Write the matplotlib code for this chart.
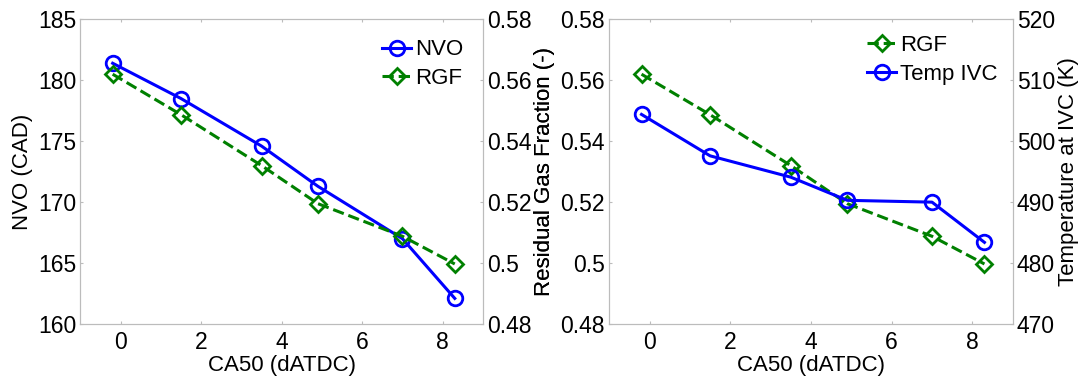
import matplotlib
matplotlib.use('Agg')
import matplotlib.pyplot as plt

plt.rcParams['font.family'] = ['Liberation Sans', 'DejaVu Sans']

# --- Data: CA50 sweep ---
ca50 = [-0.2, 1.5, 3.5, 4.9, 7.0, 8.3]
nvo = [181.4, 178.5, 174.6, 171.3, 167.0, 162.1]
rgf = [0.562, 0.5487, 0.532, 0.5195, 0.5088, 0.4997]
temp_ivc = [504.4, 497.6, 494.1, 490.3, 490.0, 483.4]

xticks = [0, 2, 4, 6, 8]
nvo_ticks = [160, 165, 170, 175, 180, 185]
rgf_ticks = [0.48, 0.5, 0.52, 0.54, 0.56, 0.58]
rgf_ticklabels = ['0.48', '0.5', '0.52', '0.54', '0.56', '0.58']
temp_ticks = [470, 480, 490, 500, 510, 520]

BLUE = '#0000ff'
GREEN = '#008000'
GREY = '#bcbcbc'
FS_TICK = 16.5
FS_LABEL = 16

circle_style = dict(color=BLUE, lw=2.2, ms=10.5, mfc='none', mew=2)
diamond_style = dict(color=GREEN, lw=2.2, ms=8.5, mfc='none', mew=2)
legend_style = dict(loc='upper right', frameon=False, fontsize=FS_LABEL,
                    handlelength=1.3, handletextpad=0.15, labelspacing=0.35)

LEFT_POS = [0.0741, 0.1406, 0.3706, 0.808]
RIGHT_POS = [0.561, 0.1406, 0.3715, 0.808]
# shared x (figure fraction) for the left edge of the RGF label between panels
RGF_LABEL_X = LEFT_POS[0] + 1.126 * LEFT_POS[2]


def style_axis(ax):
    for s in ax.spines.values():
        s.set_color(GREY)
    ax.tick_params(direction='in', length=2.5, color=GREY, labelsize=FS_TICK,
                   top=True, pad=3)
    ax.tick_params(axis='x', pad=5)


fig = plt.figure(figsize=(10.86, 3.77), dpi=100)

# --- Left panel: NVO and RGF ---
ax1 = fig.add_axes(LEFT_POS)
ax1b = ax1.twinx()
l1, = ax1.plot(ca50, nvo, '-o', label='NVO', **circle_style)
l2, = ax1b.plot(ca50, rgf, '--D', label='RGF', **diamond_style)
ax1.set_xlim(-1, 9)
ax1.set_ylim(160, 185)
ax1b.set_ylim(0.48, 0.58)
ax1.set_xticks(xticks)
ax1.set_yticks(nvo_ticks)
ax1b.set_yticks(rgf_ticks)
ax1b.set_yticklabels(rgf_ticklabels)
ax1.set_xlabel('CA50 (dATDC)', fontsize=FS_LABEL, labelpad=1)
ax1.set_ylabel('NVO (CAD)', fontsize=FS_LABEL)
ax1.yaxis.set_label_coords(-0.118, 0.5)
ax1b.set_ylabel('Residual Gas Fraction (-)', fontsize=FS_LABEL, rotation=90)
ax1b.yaxis.set_label_coords((RGF_LABEL_X - LEFT_POS[0]) / LEFT_POS[2], 0.5)
style_axis(ax1)
style_axis(ax1b)
ax1.legend(handles=[l1, l2], borderaxespad=0.5, **legend_style)

# --- Right panel: RGF and temperature at IVC ---
ax2 = fig.add_axes(RIGHT_POS)
ax2b = ax2.twinx()
l3, = ax2.plot(ca50, rgf, '--D', label='RGF', **diamond_style)
l4, = ax2b.plot(ca50, temp_ivc, '-o', label='Temp IVC', **circle_style)
ax2.set_xlim(-1, 9)
ax2.set_ylim(0.48, 0.58)
ax2b.set_ylim(470, 520)
ax2.set_xticks(xticks)
ax2.set_yticks(rgf_ticks)
ax2.set_yticklabels(rgf_ticklabels)
ax2b.set_yticks(temp_ticks)
ax2.set_xlabel('CA50 (dATDC)', fontsize=FS_LABEL, labelpad=1)
ax2.set_ylabel('Residual Gas Fraction (-)', fontsize=FS_LABEL, va='top')
ax2.yaxis.set_label_coords((RGF_LABEL_X - RIGHT_POS[0]) / RIGHT_POS[2], 0.5)
ax2b.set_ylabel('Temperature at IVC (K)', fontsize=FS_LABEL, rotation=90)
ax2b.yaxis.set_label_coords(1.112, 0.5)
style_axis(ax2)
style_axis(ax2b)
ax2.legend(handles=[l3, l4], borderaxespad=0.3, **legend_style)

fig.savefig('out.png', dpi=100)
